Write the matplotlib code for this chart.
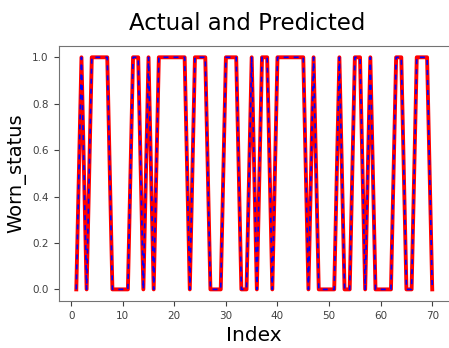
import numpy as np
import matplotlib
matplotlib.use('Agg')
import matplotlib.pyplot as plt

# index of each sample and its worn status (actual / predicted)
index = list(range(1, 71))
actual = [0, 1, 0, 1, 1, 1, 1, 0, 0, 0,
          0, 1, 1, 0, 1, 0, 1, 1, 1, 1,
          1, 1, 0, 1, 1, 1, 0, 0, 0, 1,
          1, 1, 0, 0, 1, 0, 1, 1, 0, 1,
          1, 1, 1, 1, 1, 0, 1, 0, 0, 0,
          0, 1, 0, 0, 1, 1, 0, 1, 0, 0,
          0, 0, 1, 1, 0, 0, 1, 1, 1, 0]
predicted = list(actual)

fig = plt.figure(figsize=(4.49, 3.48), dpi=100)
ax = fig.add_axes([0.1303, 0.1351, 0.872, 0.7336])

ax.plot(index, actual, color='red', lw=2.8)
ax.plot(index, predicted, color='blue', ls='--', lw=1.2, dashes=(3, 3))

ax.set_title('Actual and Predicted', fontsize=16.5, pad=11, x=0.483)
ax.set_xlabel('Index', fontsize=14.5)
ax.set_ylabel('Worn_status', fontsize=14)
ax.tick_params(labelsize=7.5, colors='0.25')
for s in ax.spines.values():
    s.set_color('0.45')

fig.savefig('out.png', dpi=100)
